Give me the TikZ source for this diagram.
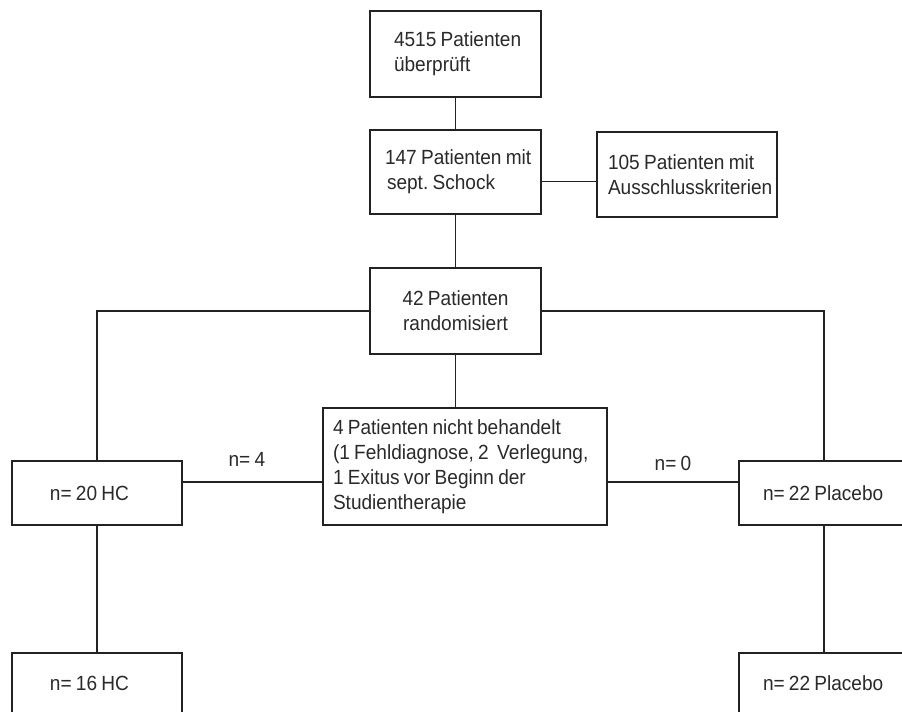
\documentclass[tikz,border=0pt]{standalone}
\usepackage{fontspec}
\setmainfont[FakeStretch=0.93,WordSpace=0.8]{Liberation Sans}
\definecolor{linec}{HTML}{222222}
\definecolor{textc}{HTML}{2A2A2A}
\begin{document}
\frenchspacing
\begin{tikzpicture}[x=1pt,y=-1pt,
  box/.style={draw=linec, line width=1.4pt, rectangle, inner sep=0pt,
    font=\fontsize{20.5}{25}\selectfont, text=textc},
  lbox/.style={box, align=left, inner xsep=0pt,
    execute at begin node={\leftskip=#1\spaceskip=0pt\xspaceskip=0pt}},
  conn/.style={draw=linec, line width=1.4pt},
  lab/.style={font=\fontsize{20.5}{25}\selectfont, text=textc, inner sep=0pt}]
\useasboundingbox (0,0) rectangle (902,715);
\fill[white] (0,0) rectangle (902,715);
\begin{scope}
\clip (0,0) rectangle (902,711);
% boxes
\node[lbox=24pt, text width=171pt, minimum height=86pt] (b1) at (455.5,54) {4515 Patienten\\überprüft};
\node[lbox=15pt, text width=171pt, minimum height=84pt] (b2) at (455.5,172) {147 Patienten mit\\\hspace*{2pt}sept. Schock};
\node[lbox=11pt, text width=180pt, minimum height=85pt] (b3) at (687,174.5) {105 Patienten mit\\Ausschlusskriterien};
\node[box, align=center, minimum width=171pt, minimum height=86pt] (b4) at (455.5,311) {42 Patienten\\randomisiert};
\node[lbox=10pt, text width=284pt, minimum height=117pt] (b5) at (465,466.5) {4 Patienten nicht behandelt\\(1 Fehldiagnose, 2 \ Verlegung,\\1 Exitus vor Beginn der\\Studientherapie};
\node[lbox=38pt, text width=170pt, minimum height=64pt] (hc1) at (97,493) {n= 20 HC};
\node[lbox=38pt, text width=170pt, minimum height=60pt] (hc2) at (97,683) {n= 16 HC};
\node[lbox=24pt, text width=170pt, minimum height=64pt] (pl1) at (824,493) {n= 22 Placebo};
\node[lbox=24pt, text width=170pt, minimum height=60pt] (pl2) at (824,683) {n= 22 Placebo};
% connectors
\draw[conn] (b1.south) -- (b2.north);
\draw[conn] ([yshift=-7pt]b3.west -| b2.east) -- ([yshift=-7pt]b3.west);
\draw[conn] (b2.south) -- (b4.north);
\draw[conn] (b4.west) -| (hc1.north);
\draw[conn] (b4.east) -| (pl1.north);
\draw[conn] (b4.south) -- (b4.south |- b5.north);
\draw[conn] ([yshift=11pt]hc1.east) -- node[lab, pos=0.46, yshift=23pt] (l4) {n= 4} ([yshift=11pt]hc1.east -| b5.west);
\draw[conn] ([yshift=11pt]pl1.west -| b5.east) -- node[lab, midway, yshift=19pt] (l0) {n= 0} ([yshift=11pt]pl1.west);
\draw[conn] (hc1.south) -- (hc2.north);
\draw[conn] (pl1.south) -- (pl2.north);
\end{scope}
\end{tikzpicture}
\end{document}
